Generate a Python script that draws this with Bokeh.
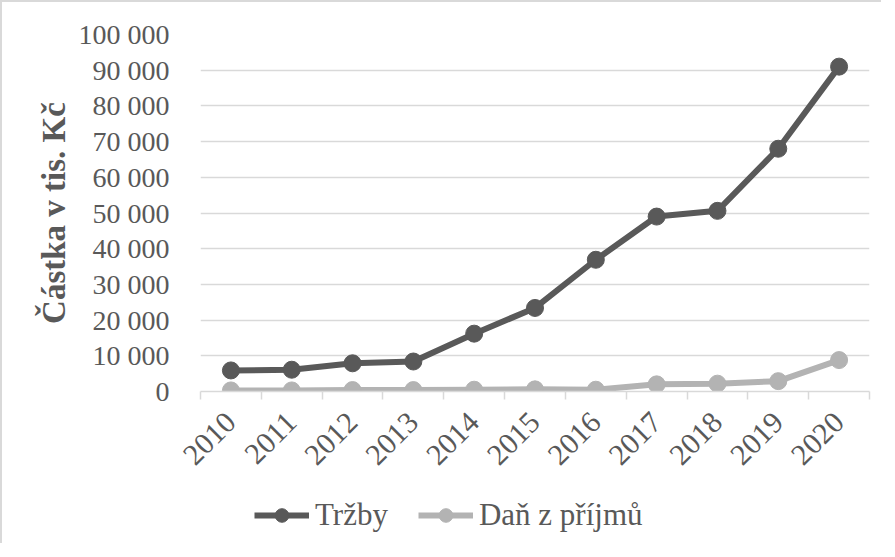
from bokeh.plotting import figure
from bokeh.layouts import column
from bokeh.models import FixedTicker, Legend, LegendItem, Range1d
from bokeh.embed import file_html
from bokeh.resources import INLINE

years = ["2010", "2011", "2012", "2013", "2014", "2015", "2016", "2017", "2018", "2019", "2020"]
trzby = [5900, 6100, 7900, 8400, 16200, 23400, 36900, 49000, 50600, 68000, 91000]
dan = [300, 300, 400, 400, 500, 600, 500, 2000, 2200, 2900, 8800]
y_ticks = [0, 10000, 20000, 30000, 40000, 50000, 60000, 70000, 80000, 90000, 100000]
y_labels = ["0", "10 000", "20 000", "30 000", "40 000", "50 000", "60 000",
            "70 000", "80 000", "90 000", "100 000"]
series_names = ["Tržby", "Daň z příjmů"]

FONT = "Liberation Serif"
TXT = "#595959"
C1 = "#595959"
C2 = "#b3b3b3"

xs = list(range(len(years)))

p = figure(width=879, height=490, output_backend="svg", toolbar_location=None,
           x_range=Range1d(-0.5, len(years) - 0.5), y_range=Range1d(0, 100000),
           min_border_left=198, min_border_right=12, min_border_top=32,
           min_border_bottom=101)
p.outline_line_color = None
p.background_fill_color = "white"
p.border_fill_color = "white"

# grid
p.xgrid.grid_line_color = None
p.ygrid.ticker = FixedTicker(ticks=y_ticks)
p.ygrid.grid_line_color = "#d9d9d9"
p.ygrid.grid_line_width = 1.5

# y axis
p.yaxis.ticker = FixedTicker(ticks=y_ticks)
p.yaxis.major_label_overrides = {t: l for t, l in zip(y_ticks, y_labels)}
p.yaxis.axis_line_color = None
p.yaxis.major_tick_line_color = None
p.yaxis.minor_tick_line_color = None
p.yaxis.major_label_standoff = 25
p.yaxis.major_label_text_font = FONT
p.yaxis.major_label_text_font_size = "28px"
p.yaxis.major_label_text_color = TXT
p.yaxis.axis_label = "Částka v tis. Kč"
p.yaxis.axis_label_text_font = FONT
p.yaxis.axis_label_text_font_size = "33px"
p.yaxis.axis_label_text_font_style = "bold"
p.yaxis.axis_label_text_color = TXT
p.yaxis.axis_label_standoff = 4

# x axis
bounds = [i - 0.5 for i in range(len(years) + 1)]
p.xaxis.ticker = FixedTicker(ticks=xs, minor_ticks=bounds)
p.xaxis.major_label_overrides = {i: y for i, y in enumerate(years)}
p.xaxis.axis_line_color = "#d9d9d9"
p.xaxis.axis_line_width = 1.5
p.xaxis.major_tick_line_color = None
p.xaxis.minor_tick_line_color = "#d9d9d9"
p.xaxis.minor_tick_line_width = 1.5
p.xaxis.minor_tick_in = 0
p.xaxis.minor_tick_out = 8
p.xaxis.major_label_orientation = 0.785398
p.xaxis.major_label_standoff = 18
p.xaxis.major_label_text_font = FONT
p.xaxis.major_label_text_font_size = "30px"
p.xaxis.major_label_text_color = TXT

# series
p.line(xs, trzby, line_color=C1, line_width=6)
p.scatter(xs, trzby, size=17, fill_color=C1, line_color=C1)
p.line(xs, dan, line_color=C2, line_width=6)
p.scatter(xs, dan, size=17, fill_color=C2, line_color=C2)

# legend strip (series drawn out of its visible range; only legend glyphs show)
p2 = figure(width=879, height=51, output_backend="svg", toolbar_location=None,
            x_range=Range1d(0, 1), y_range=Range1d(0, 1),
            min_border_left=198, min_border_right=12,
            min_border_top=0, min_border_bottom=0)
p2.axis.visible = False
p2.grid.visible = False
p2.outline_line_color = None
p2.border_fill_color = "white"
items = []
for name, vals, c in zip(series_names, [trzby, dan], [C1, C2]):
    lr = p2.line(xs, vals, line_color=c, line_width=6)
    sr = p2.scatter(xs, vals, size=17, fill_color=c, line_color=c)
    items.append(LegendItem(label=name, renderers=[lr, sr]))
legend = Legend(items=items, location=(54, 10), orientation="horizontal",
                glyph_width=55, glyph_height=34, label_standoff=6, spacing=30,
                padding=0, margin=0, border_line_color=None,
                background_fill_alpha=0)
legend.label_text_font = FONT
legend.label_text_font_size = "31px"
legend.label_text_color = TXT
p2.add_layout(legend, "center")

layout = column(p, p2, spacing=0)
layout.styles = {"border-left": "2px solid #d9d9d9", "border-top": "2px solid #d9d9d9"}

open("out.html", "w").write(file_html(layout, INLINE))
